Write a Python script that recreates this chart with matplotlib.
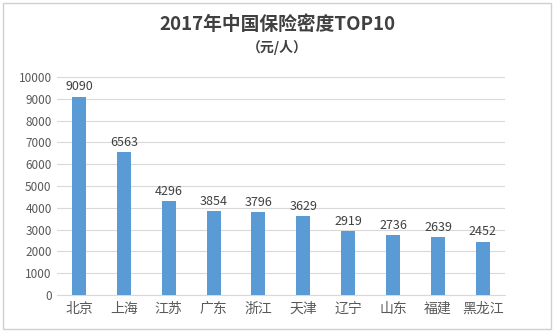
import matplotlib.pyplot as plt
from matplotlib.patches import Rectangle

plt.rcParams['font.family'] = ['Noto Sans CJK SC', 'DejaVu Sans']

provinces = ['北京', '上海', '江苏', '广东', '浙江', '天津', '辽宁', '山东', '福建', '黑龙江']
density = [9090, 6563, 4296, 3854, 3796, 3629, 2919, 2736, 2639, 2452]
y_ticks = list(range(0, 10001, 1000))

fig = plt.figure(figsize=(5.54, 3.33), dpi=100)
fig.patch.set_facecolor('white')
# thin frame round the chart area
fig.patches.append(Rectangle((0.006, 0.012), 0.988, 0.978, transform=fig.transFigure,
                             fill=False, edgecolor='#d0d0d0', linewidth=1))

ax = fig.add_axes([0.102, 0.114, 0.81, 0.655])
x = range(len(provinces))
bars = ax.bar(x, density, width=0.31, color='#5b9bd5', zorder=3)

for xi, v in zip(x, density):
    ax.text(xi, v + 150, str(v), ha='center', va='bottom', fontsize=9, color='#404040')

ax.set_ylim(0, 10000)
ax.set_xlim(-0.5, len(provinces) - 0.5)
ax.set_yticks(y_ticks)
ax.set_xticks(list(x))
ax.set_xticklabels(provinces, fontsize=10)
ax.tick_params(axis='both', length=0, labelcolor='#595959')
ax.tick_params(axis='y', labelsize=8.5)
ax.tick_params(axis='x', pad=5)
ax.grid(axis='y', color='#d9d9d9', linewidth=0.8, zorder=0)
for s in ['top', 'right', 'left']:
    ax.spines[s].set_visible(False)
ax.spines['bottom'].set_color('#d9d9d9')

fig.text(0.5, 0.925, '2017年中国保险密度TOP10', ha='center', va='center',
         fontsize=13.5, fontweight='bold', color='#404040')
fig.text(0.5, 0.858, '（元/人）', ha='center', va='center',
         fontsize=10, fontweight='bold', color='#404040')

fig.savefig('out.png', dpi=100)
